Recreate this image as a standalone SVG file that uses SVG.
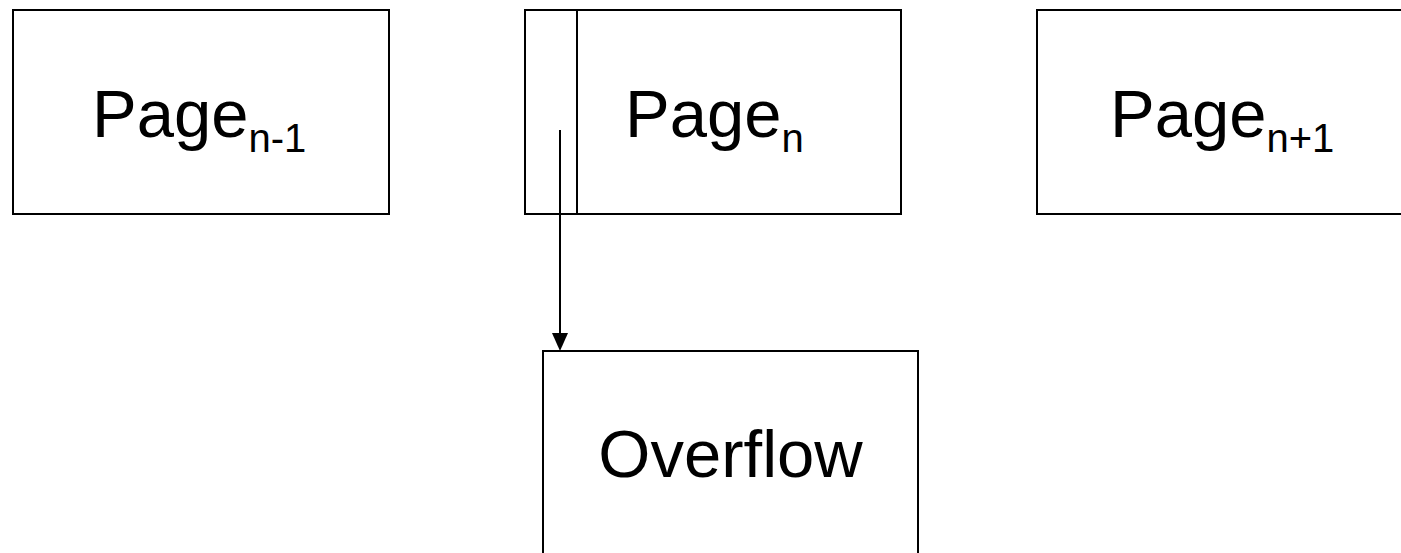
<svg xmlns="http://www.w3.org/2000/svg" width="1401" height="553" viewBox="0 0 1401 553">
<style>
.box{fill:#fff;stroke:#000;stroke-width:2}
.lbl{font-family:"Liberation Sans",Arial,sans-serif;font-size:67px;fill:#000}
.sub{font-size:40px}
.conn{stroke:#000;stroke-width:2;fill:none}
</style>
<rect width="1401" height="553" fill="#fff"/>
<g id="page-n-1">
<rect class="box" x="13" y="10" width="376" height="204"/>
<text class="lbl" x="92" y="137">Page<tspan class="sub" dy="15">n-1</tspan></text>
</g>
<g id="page-n">
<rect class="box" x="525" y="10" width="376" height="204"/>
<line class="conn" x1="577" y1="10" x2="577" y2="214"/>
<text class="lbl" x="625" y="137">Page<tspan class="sub" dy="15">n</tspan></text>
</g>
<g id="page-n+1">
<rect class="box" x="1037" y="10" width="376" height="204"/>
<text class="lbl" x="1110" y="137">Page<tspan class="sub" dy="15">n+1</tspan></text>
</g>
<g id="overflow">
<rect class="box" x="543" y="351" width="375" height="220"/>
<text class="lbl" x="730.5" y="477" text-anchor="middle">Overflow</text>
</g>
<g id="connectors">
<line class="conn" x1="560" y1="130" x2="560" y2="334"/>
<path d="M552,333 L568,333 L560,351 Z" fill="#000"/>
</g>
</svg>
